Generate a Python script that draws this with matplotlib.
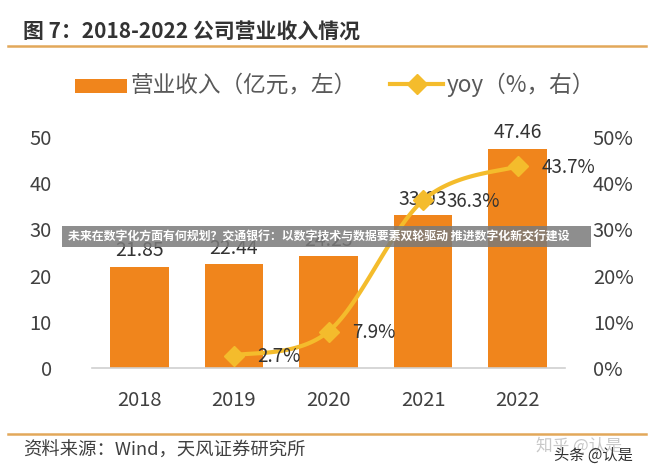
import numpy as np
import matplotlib
matplotlib.use("Agg")
import matplotlib.pyplot as plt
from matplotlib.lines import Line2D
from matplotlib.patches import Rectangle

plt.rcParams['font.family'] = ['Noto Sans CJK SC', 'DejaVu Sans']

years = ['2018', '2019', '2020', '2021', '2022']
revenue = [21.85, 22.44, 24.23, 33.03, 47.46]
yoy_years = ['2019', '2020', '2021', '2022']
yoy = [2.7, 7.9, 36.3, 43.7]
left_ticks = [0, 10, 20, 30, 40, 50]
right_ticks = [0, 10, 20, 30, 40, 50]

title = '图 7：2018-2022 公司营业收入情况'
legend_bar = '营业收入（亿元，左）'
legend_line = 'yoy（%，右）'
source = '资料来源：Wind，天风证券研究所'
banner = '未来在数字化方面有何规划？交通银行：以数字技术与数据要素双轮驱动 推进数字化新交行建设'

BAR = '#F0851C'
LINE = '#F4BC2C'
TXT = '#404040'

W, H = 654, 474
fig = plt.figure(figsize=(W / 100, H / 100), dpi=100)
fig.patch.set_facecolor('white')

def fx(px):
    return px / W

def fy(py):
    return 1 - py / H

ax = fig.add_axes([fx(92), fy(368), fx(565) - fx(92), fy(137) - fy(368)])
x = np.arange(len(years))
ax.bar(x, revenue, width=0.62, color=BAR, zorder=2)
ax.set_xlim(-0.5, len(years) - 0.5)
ax.set_ylim(0, 50)
ax.set_yticks(left_ticks)
ax.set_yticklabels([str(t) for t in left_ticks])
ax.set_xticks(x)
ax.set_xticklabels(years)
for s in ['top', 'left', 'right']:
    ax.spines[s].set_visible(False)
ax.spines['bottom'].set_color('#D0D0D0')
ax.spines['bottom'].set_linewidth(1.2)
ax.tick_params(axis='both', length=0, labelsize=14.5, colors=TXT)
ax.tick_params(axis='y', pad=29)
ax.tick_params(axis='x', pad=16)

for xi, v in zip(x, revenue):
    ax.annotate(f'{v:.2f}', (xi, v), xytext=(0, 4), textcoords='offset points',
                ha='center', va='bottom', fontsize=14, color='#333333', zorder=5)

ax2 = ax.twinx()
ax2.set_ylim(0, 50)
ax2.set_yticks(right_ticks)
ax2.set_yticklabels([f'{t}%' for t in right_ticks])
for s in ['top', 'left', 'right', 'bottom']:
    ax2.spines[s].set_visible(False)
ax2.tick_params(axis='y', length=0, labelsize=14.5, colors=TXT, pad=20)

lx = np.array([years.index(y) for y in yoy_years], dtype=float)
ly = np.array(yoy, dtype=float)

# Excel-like smooth line (Catmull-Rom style Bezier)
def smooth(px, py, n=40):
    pts = np.column_stack([px, py])
    out = []
    for i in range(len(pts) - 1):
        p0 = pts[i - 1] if i > 0 else pts[i]
        p1 = pts[i]
        p2 = pts[i + 1]
        p3 = pts[i + 2] if i + 2 < len(pts) else pts[i + 1]
        c1 = p1 + (p2 - p0) / 6
        c2 = p2 - (p3 - p1) / 6
        t = np.linspace(0, 1, n)[:, None]
        seg = ((1 - t) ** 3) * p1 + 3 * ((1 - t) ** 2) * t * c1 + 3 * (1 - t) * t ** 2 * c2 + t ** 3 * p2
        out.append(seg if i == 0 else seg[1:])
    s = np.vstack(out)
    return s[:, 0], s[:, 1]

sx, sy = smooth(lx, ly)
ax2.plot(sx, sy, color=LINE, lw=3, solid_capstyle='round', zorder=3)
ax2.plot(lx, ly, linestyle='none', marker='D', markersize=10, color=LINE,
         markeredgecolor=LINE, zorder=4)
for xi, v in zip(lx, ly):
    ax2.annotate(f'{v:.1f}%', (xi, v), xytext=(17, -1), textcoords='offset points',
                 ha='left', va='center', fontsize=13.5, color='#333333', zorder=5)

# title and rules
fig.text(fx(23), fy(31), title, fontsize=15, fontweight='bold', color='#333333',
         ha='left', va='center')
fig.add_artist(Line2D([fx(8), fx(646)], [fy(46), fy(46)], color='#E2A85A', lw=1.8))
fig.add_artist(Line2D([fx(8), fx(646)], [fy(434), fy(434)], color='#E2A85A', lw=1.8))

# legend
fig.add_artist(Rectangle((fx(75), fy(93)), fx(127) - fx(75), fy(79) - fy(93),
                         facecolor=BAR, edgecolor='none'))
fig.text(fx(131), fy(85), legend_bar, fontsize=16.3, color='#595959', ha='left', va='center')
fig.add_artist(Line2D([fx(390), fx(443)], [fy(84), fy(84)], color=LINE, lw=3))
fig.add_artist(Line2D([fx(417)], [fy(84)], marker='D', markersize=10, color=LINE, linestyle='none'))
fig.text(fx(447), fy(85), legend_line, fontsize=16.3, color='#595959', ha='left', va='center')

# source
fig.text(fx(23), fy(451), source, fontsize=13.2, color='#404040', ha='left', va='center')
fig.text(fx(536), fy(446), '知乎 @认是', fontsize=12, color='#C8C8C8', ha='left', va='center')
fig.text(fx(554), fy(455), '头条 @认是', fontsize=11, color='#333333', ha='left', va='center')

# overlay banner
fig.add_artist(Rectangle((fx(62), fy(247)), fx(591) - fx(62), fy(226) - fy(247),
                         facecolor='#7a7a7a', alpha=0.85, edgecolor='none', zorder=10))
fig.text(fx(68), fy(236.5), banner, fontsize=8.6, fontweight='bold', color='white',
         ha='left', va='center', zorder=11)

fig.savefig('out.png', dpi=100, facecolor='white')
